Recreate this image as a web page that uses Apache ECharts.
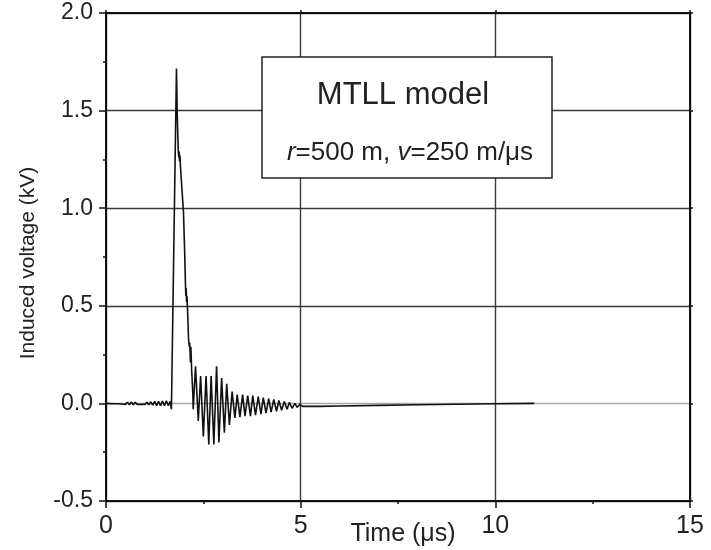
<!DOCTYPE html>
<html>
<head>
<meta charset="utf-8">
<script src="https://cdn.jsdelivr.net/npm/echarts@6/dist/echarts.min.js"></script>
<style>html,body{margin:0;padding:0;background:#fff;}#c{width:711px;height:550px;}</style>
</head>
<body>
<div id="c"></div>
<script>
// Time (µs) and induced voltage (kV)
const timeUs = [
  0.00, 0.05, 0.10, 0.15, 0.20, 0.25, 0.30, 0.35, 0.40, 0.45,
  0.50, 0.55, 0.60, 0.65, 0.70, 0.75, 0.80, 0.85, 0.90, 0.95,
  1.00, 1.05, 1.10, 1.15, 1.20, 1.25, 1.30, 1.35, 1.40, 1.45,
  1.50, 1.55, 1.60, 1.65, 1.68,
  1.81,
  1.83, 1.855, 1.87, 1.88, 1.89, 1.90, 1.91, 1.95, 1.99, 2.02,
  2.04, 2.05, 2.06, 2.07, 2.08, 2.10, 2.12, 2.14, 2.15, 2.17,
  2.18, 2.20, 2.23,
  2.24, 2.30, 2.37, 2.43, 2.50, 2.57, 2.64, 2.70, 2.77, 2.84,
  2.90, 2.97, 3.04, 3.10, 3.17, 3.24, 3.31, 3.37, 3.44, 3.51,
  3.57, 3.64, 3.71, 3.77, 3.84, 3.91, 3.98, 4.04, 4.11, 4.18,
  4.24, 4.31, 4.38, 4.44, 4.51, 4.58, 4.65, 4.71, 4.78, 4.85,
  4.91, 4.98, 5.05,
  5.5, 6.0, 7.0, 8.0, 9.0, 10.0, 11.0
];
const voltageKV = [
  0.000, 0.001, -0.001, 0.001, -0.002, 0.002, -0.002, 0.003, -0.003, 0.004,
  -0.005, 0.006, -0.007, 0.007, -0.007, 0.006, -0.005, 0.004, -0.004, 0.004,
  -0.005, 0.006, -0.007, 0.008, -0.009, 0.010, -0.011, 0.011, -0.012, 0.012,
  -0.012, 0.013, -0.011, 0.010, -0.030,
  1.715,
  1.48, 1.30, 1.26, 1.29, 1.24, 1.27, 1.22, 1.10, 0.98, 0.78,
  0.62, 0.55, 0.59, 0.52, 0.55, 0.45, 0.33, 0.29, 0.31, 0.21,
  0.29, 0.17, 0.05,
  -0.03, 0.19, -0.09, 0.14, -0.17, 0.14, -0.21, 0.14, -0.21, 0.19,
  -0.20, 0.13, -0.15, 0.10, -0.11, 0.06, -0.075, 0.045, -0.07, 0.045,
  -0.065, 0.04, -0.065, 0.04, -0.06, 0.035, -0.055, 0.03, -0.05, 0.025,
  -0.045, 0.02, -0.04, 0.015, -0.035, 0.01, -0.03, 0.005, -0.025, 0.0,
  -0.02, -0.005, -0.015,
  -0.015, -0.013, -0.010, -0.007, -0.004, -0.002, 0.0
];
const xTicks = [0, 5, 10, 15];
const yTicks = [-0.5, 0.0, 0.5, 1.0, 1.5, 2.0];
const titleText = 'MTLL model';
const subText = '{i|r}=500 m, {i|v}=250 m/\u03bcs';
const xName = 'Time (\u03bcs)';
const yName = 'Induced voltage (kV)';

const seriesData = timeUs.map((t, i) => [t, voltageKV[i]]);
const font = 'Liberation Sans, Arial, Helvetica, sans-serif';

const chart = echarts.init(document.getElementById('c'), null, {renderer: 'canvas'});
chart.setOption({
  animation: false,
  backgroundColor: '#fff',
  grid: {left: 106, right: 21, top: 13, bottom: 49, containLabel: false, outerBoundsMode: 'none'},
  xAxis: [{
    type: 'value', min: xTicks[0], max: xTicks[xTicks.length - 1], interval: 5,
    position: 'bottom',
    axisLine: {onZero: false, lineStyle: {color: '#111', width: 2}},
    axisTick: {inside: false, length: 7, lineStyle: {color: '#111', width: 1.5}},
    minorTick: {show: true, splitNumber: 2, length: 3, lineStyle: {color: '#111', width: 1.5}},
    axisLabel: {color: '#222', fontSize: 25, fontFamily: font, margin: 13,
      formatter: v => String(v)},
    splitLine: {show: true, lineStyle: {color: '#3a3a3a', width: 1.4}}
  }, {
    type: 'value', min: xTicks[0], max: xTicks[xTicks.length - 1], interval: 5,
    position: 'top',
    axisLine: {onZero: false, lineStyle: {color: '#111', width: 2}},
    axisTick: {inside: false, length: 3, lineStyle: {color: '#111', width: 1.5}},
    axisLabel: {show: false}, splitLine: {show: false}
  }],
  yAxis: [{
    type: 'value', min: yTicks[0], max: yTicks[yTicks.length - 1], interval: 0.5,
    position: 'left',
    axisLine: {onZero: false, lineStyle: {color: '#111', width: 2}},
    axisTick: {inside: false, length: 7, lineStyle: {color: '#111', width: 1.5}},
    minorTick: {show: true, splitNumber: 2, length: 3, lineStyle: {color: '#111', width: 1.5}},
    axisLabel: {color: '#222', fontSize: 23, fontFamily: font, margin: 13,
      formatter: v => v.toFixed(1)},
    splitLine: {show: true, lineStyle: {
      color: ['#3a3a3a', '#a8a8a8', '#3a3a3a', '#3a3a3a', '#3a3a3a', '#3a3a3a'],
      width: 1.4}}
  }, {
    type: 'value', min: yTicks[0], max: yTicks[yTicks.length - 1], interval: 0.5,
    position: 'right',
    axisLine: {onZero: false, lineStyle: {color: '#111', width: 2}},
    axisTick: {inside: false, length: 3, lineStyle: {color: '#111', width: 1.5}},
    axisLabel: {show: false}, splitLine: {show: false}
  }],
  series: [{
    type: 'line', xAxisIndex: 0, yAxisIndex: 0,
    data: seriesData, showSymbol: false, symbol: 'none',
    lineStyle: {color: '#111', width: 1.6}, z: 5
  }],
  graphic: [
    {type: 'rect', z: 100, shape: {x: 262, y: 57, width: 290, height: 121},
     style: {fill: '#fff', stroke: '#222', lineWidth: 1.5}},
    {type: 'text', z: 101, x: 403, y: 95,
     style: {text: titleText, fontSize: 31, fontFamily: font, fill: '#222',
       align: 'center', verticalAlign: 'middle'}},
    {type: 'text', z: 101, x: 410, y: 153,
     style: {text: subText, fontSize: 26, fontFamily: font, fill: '#222',
       align: 'center', verticalAlign: 'middle',
       rich: {i: {fontStyle: 'italic', fontSize: 26, fontFamily: font, fill: '#222'}}}},
    {type: 'text', z: 101, x: 28, y: 263, rotation: Math.PI / 2,
     style: {text: yName, fontSize: 21, fontFamily: font, fill: '#222',
       align: 'center', verticalAlign: 'middle'}},
    {type: 'text', z: 101, x: 403, y: 534,
     style: {text: xName, fontSize: 25, fontFamily: font, fill: '#222',
       align: 'center', verticalAlign: 'middle'}}
  ]
});
</script>
</body>
</html>
